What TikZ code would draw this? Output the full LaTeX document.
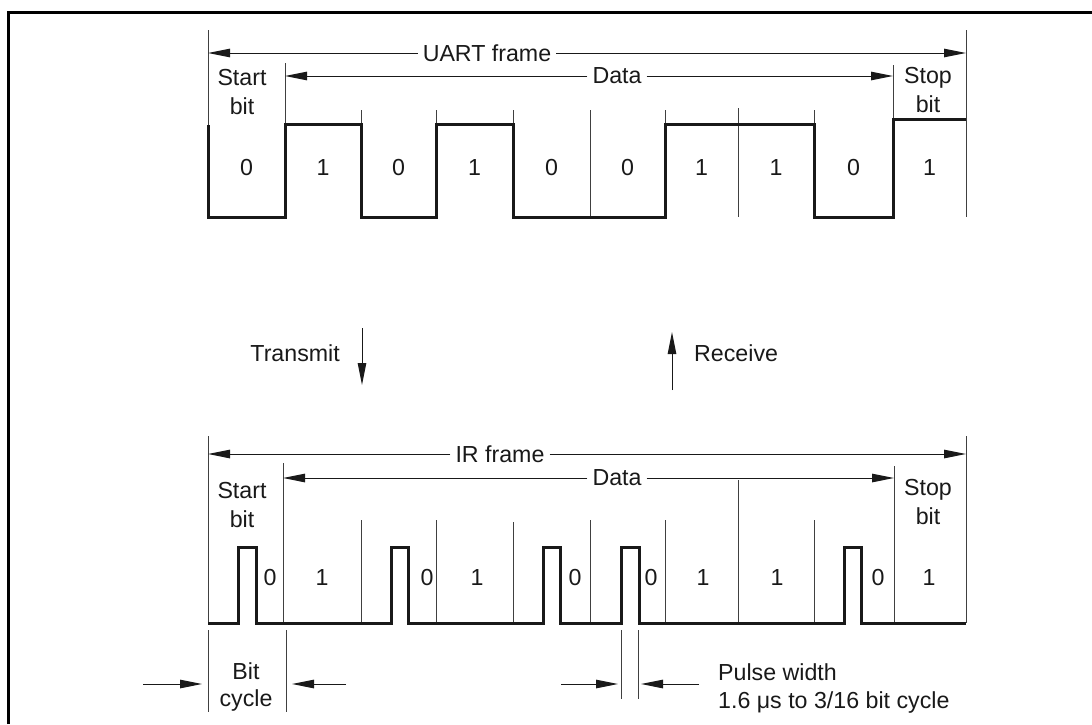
\documentclass[tikz,border=0pt]{standalone}
\usepackage{fontspec}
\setmainfont{Liberation Sans}
\usetikzlibrary{arrows.meta}
\begin{document}
\begin{tikzpicture}[x=1pt,y=-1pt,
  lbl/.style={font=\fontsize{23.2}{28}\selectfont, inner sep=0pt, text=black!90},
  dimlbl/.style={font=\fontsize{23.2}{28}\selectfont, inner sep=5pt, text=black!90},
  gridline/.style={line width=1pt, black!75},
  wave/.style={line width=3pt, black!90, line join=miter},
  tip/.style={-{Triangle[length=22pt,width=8.5pt]}, line width=1pt, black!90},
]
\useasboundingbox (0,0) rectangle (1092,724);
% frame
\draw[line width=3pt] (8,724) -- (8,12) -- (1092,12);

% ---------------- UART frame ----------------
\foreach \x/\t in {208/30,285/63,361/110,436/110,513/110,590/110,665/110,738/108,814/110,893/65,966/30}
  \draw[gridline] (\x,\t) -- (\x,217);
\draw[wave] (208,125) -- (208,217) -- (285,217) -- (285,124) -- (361,124) -- (361,217)
  -- (436,217) -- (436,124) -- (513,124) -- (513,217) -- (665,217) -- (665,124)
  -- (814,124) -- (814,217) -- (893,217) -- (893,119) -- (966,119);

\coordinate (uL) at (208,53); \coordinate (uR) at (966,53);
\node[dimlbl] (uart) at (487,53) {UART frame};
\draw[tip] (uart) -- (uL);
\draw[tip] (uart) -- (uR);
\coordinate (dL) at (285,76); \coordinate (dR) at (893,76);
\node[dimlbl] (udata) at (617,76) {Data};
\draw[tip] (udata) -- (dL);
\draw[tip] (udata) -- (dR);

\node[lbl, anchor=base] (ustart) at (242,85) {Start};
\node[lbl, anchor=base] (ustartb) at (242,114) {bit};
\node[lbl, anchor=base] (ustop) at (928,83) {Stop};
\node[lbl, anchor=base] (ustopb) at (928,112) {bit};

\foreach \c/\v [count=\i] in {246.5/0,323/1,398.5/0,474.5/1,551.5/0,627.5/0,701.5/1,776/1,853.5/0,929.5/1}
  \node[lbl, anchor=base] (ub\i) at (\c,175) {\v};

% ---------------- Transmit / Receive ----------------
\node[lbl, anchor=base east] (tx) at (340,361) {Transmit};
\coordinate (txA) at (362,328); \coordinate (txB) at (362,385);
\draw[tip] (txA) -- (txB);
\node[lbl, anchor=base west] (rx) at (694,361) {Receive};
\coordinate (rxA) at (672,390); \coordinate (rxB) at (672,332);
\draw[tip] (rxA) -- (rxB);

% ---------------- IR frame ----------------
\foreach \x/\t in {208/436,283/463,361/520,436/520,513/522,590/520,665/520,738/480,814/520,894/466,966/436}
  \draw[gridline] (\x,\t) -- (\x,623);
\draw[wave] (208,623) -- (238,623) -- (238,547) -- (256,547) -- (256,623)
  -- (391,623) -- (391,547) -- (408,547) -- (408,623)
  -- (543,623) -- (543,547) -- (560,547) -- (560,623)
  -- (621,623) -- (621,547) -- (639,547) -- (639,623)
  -- (844,623) -- (844,547) -- (861,547) -- (861,623) -- (966,623);

\coordinate (iL) at (208,454); \coordinate (iR) at (966,454);
\node[dimlbl] (irf) at (500,454) {IR frame};
\draw[tip] (irf) -- (iL);
\draw[tip] (irf) -- (iR);
\coordinate (idL) at (283,478); \coordinate (idR) at (894,478);
\node[dimlbl] (idata) at (617,478) {Data};
\draw[tip] (idata) -- (idL);
\draw[tip] (idata) -- (idR);

\node[lbl, anchor=base] (istart) at (242,498) {Start};
\node[lbl, anchor=base] (istartb) at (242,527) {bit};
\node[lbl, anchor=base] (istop) at (928,495) {Stop};
\node[lbl, anchor=base] (istopb) at (928,524) {bit};

\foreach \c/\v [count=\i] in {270/0,322/1,427/0,477/1,575/0,651/0,703/1,777/1,878/0,929/1}
  \node[lbl, anchor=base] (ib\i) at (\c,585) {\v};

% ---------------- Bit cycle ----------------
\draw[gridline] (208,630) -- (208,712);
\draw[gridline] (286,630) -- (286,712);
\coordinate (bcA) at (143,684); \coordinate (bcB) at (202,684);
\coordinate (bcC) at (346,684); \coordinate (bcD) at (292,684);
\draw[tip] (bcA) -- (bcB);
\draw[tip] (bcC) -- (bcD);
\node[lbl, anchor=base] (bc1) at (246,679) {Bit};
\node[lbl, anchor=base] (bc2) at (246,706) {cycle};

% ---------------- Pulse width ----------------
\draw[gridline] (621,630) -- (621,699);
\draw[gridline] (638,630) -- (638,699);
\coordinate (pwA) at (561,684); \coordinate (pwB) at (618,684);
\coordinate (pwC) at (699,684); \coordinate (pwD) at (641,684);
\draw[tip] (pwA) -- (pwB);
\draw[tip] (pwC) -- (pwD);
\node[lbl, anchor=base west] (pw1) at (718,680) {Pulse width};
\node[lbl, anchor=base west] (pw2) at (718,708) {1.6 μs to 3/16 bit cycle};
\end{tikzpicture}
\end{document}
